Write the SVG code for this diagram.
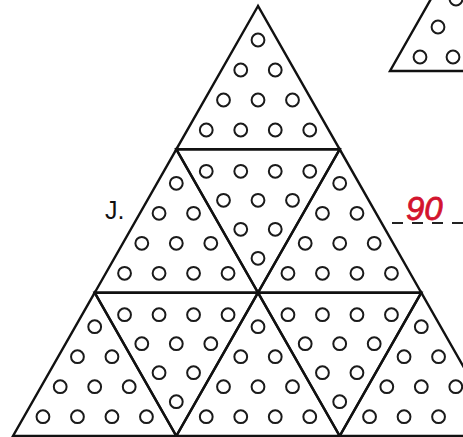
<svg xmlns="http://www.w3.org/2000/svg" xmlns:xlink="http://www.w3.org/1999/xlink" width="463" height="437" viewBox="0 0 463 437">
<style>
.tri{fill:none;stroke:#111;stroke-width:2.4;stroke-linejoin:miter}
.dot{fill:none;stroke:#1a1a1a;stroke-width:2}
.lbl{font-family:"Liberation Sans",Arial,sans-serif;fill:#111}
.ans{font-family:"Liberation Sans",Arial,sans-serif;font-style:italic;fill:#d3142e;stroke:#d3142e;stroke-width:0.8}
.dash{stroke:#222;stroke-width:2;stroke-dasharray:11 9;fill:none}
</style>
<defs>
<g id="upDots" class="dot">
<circle cx="0" cy="34" r="6.4"/>
<circle cx="-17.25" cy="64" r="6.4"/><circle cx="17.25" cy="64" r="6.4"/>
<circle cx="-34.5" cy="94" r="6.4"/><circle cx="0" cy="94" r="6.4"/><circle cx="34.5" cy="94" r="6.4"/>
<circle cx="-51.75" cy="124" r="6.4"/><circle cx="-17.25" cy="124" r="6.4"/><circle cx="17.25" cy="124" r="6.4"/><circle cx="51.75" cy="124" r="6.4"/>
</g>
<g id="downDots" class="dot">
<circle cx="-51.75" cy="22" r="6.4"/><circle cx="-17.25" cy="22" r="6.4"/><circle cx="17.25" cy="22" r="6.4"/><circle cx="51.75" cy="22" r="6.4"/>
<circle cx="-34.5" cy="51" r="6.4"/><circle cx="0" cy="51" r="6.4"/><circle cx="34.5" cy="51" r="6.4"/>
<circle cx="-17.25" cy="80" r="6.4"/><circle cx="17.25" cy="80" r="6.4"/>
<circle cx="0" cy="109" r="6.4"/>
</g>
</defs>
<rect width="463" height="437" fill="#fff"/>

<g id="small-triangle">
<polyline class="tri" points="431.5,-2 390,71 463,71"/>
<g class="dot">
<circle cx="456" cy="-1" r="6.4"/>
<circle cx="438" cy="27" r="6.4"/>
<circle cx="420" cy="57" r="6.4"/><circle cx="453" cy="57" r="6.4"/>
</g>
</g>

<g id="t1"><polygon class="tri" points="258,6 176.3,149.3 339.7,149.3"/><use xlink:href="#upDots" transform="translate(258,6)"/></g>
<g id="t2"><polygon class="tri" points="176.3,149.3 94.7,292.7 258,292.7"/><use xlink:href="#upDots" transform="translate(176.3,149.3)"/></g>
<g id="t3"><polygon class="tri" points="339.7,149.3 258,292.7 421.3,292.7"/><use xlink:href="#upDots" transform="translate(339.7,149.3)"/></g>
<g id="t4"><polygon class="tri" points="94.7,292.7 13,436 176.3,436"/><use xlink:href="#upDots" transform="translate(94.7,292.7)"/></g>
<g id="t5"><polygon class="tri" points="258,292.7 176.3,436 339.7,436"/><use xlink:href="#upDots" transform="translate(258,292.7)"/></g>
<g id="t6"><polygon class="tri" points="421.3,292.7 339.7,436 503,436"/><use xlink:href="#upDots" transform="translate(421.3,292.7)"/></g>
<g id="d1"><polygon class="tri" points="176.3,149.3 339.7,149.3 258,292.7"/><use xlink:href="#downDots" transform="translate(258,149.3)"/></g>
<g id="d2"><polygon class="tri" points="94.7,292.7 258,292.7 176.3,436"/><use xlink:href="#downDots" transform="translate(176.3,292.7)"/></g>
<g id="d3"><polygon class="tri" points="258,292.7 421.3,292.7 339.7,436"/><use xlink:href="#downDots" transform="translate(339.7,292.7)"/></g>

<g id="label"><text class="lbl" x="105" y="219" font-size="25">J.</text></g>

<g id="connectors">
<line class="dash" x1="392" y1="223" x2="463" y2="223"/>
</g>
<g id="answer"><text class="ans" x="406" y="220" font-size="33">90</text></g>
</svg>
